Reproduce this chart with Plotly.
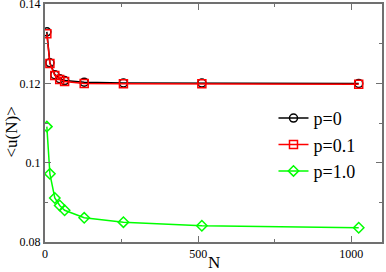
import plotly.graph_objects as go

N = [6, 16, 32, 48, 64, 128, 256, 512, 1024]
u_p0 = [0.1330, 0.1252, 0.1222, 0.1212, 0.1207, 0.1203, 0.1201, 0.1201, 0.1200]
u_p01 = [0.1325, 0.1250, 0.1220, 0.1210, 0.1205, 0.1200, 0.1199, 0.1199, 0.1198]
u_p1 = [0.1091, 0.0972, 0.0911, 0.0892, 0.0880, 0.0861, 0.0850, 0.0841, 0.0836]
labels = ["p=0", "p=0.1", "p=1.0"]

font = "Liberation Serif"
fig = go.Figure()
series = [(u_p0, "black", "circle-open"), (u_p01, "#ff0000", "square-open"), (u_p1, "#00ff00", "diamond-open")]
for (y, c, sym), name in zip(series, labels):
    fig.add_trace(go.Scatter(x=N, y=y, name=name, mode="lines+markers",
                             line=dict(color=c, width=1.5),
                             marker=dict(symbol=sym, size=8, color=c, line=dict(width=1.5, color=c))))

axis_common = dict(showgrid=False, zeroline=False, showline=True, mirror="allticks",
                   linecolor="#707070", linewidth=2, ticks="inside", ticklen=6,
                   tickcolor="#707070", tickwidth=1, automargin=False,
                   ticklabeloverflow="allow",
                   tickfont=dict(family=font, size=12, color="black"))
fig.update_xaxes(range=[0, 1100], tickvals=[0, 500, 1000],
                 minor=dict(tickvals=[250, 750], ticks="inside", ticklen=3, tickcolor="#707070"),
                 **axis_common)
fig.update_yaxes(range=[0.08, 0.14002], tickvals=[0.08, 0.1, 0.12, 0.14],
                 ticktext=["0.08", "0.1", "0.12", "0.14"],
                 minor=dict(tickvals=[0.09, 0.11, 0.13], ticks="inside", ticklen=3, tickcolor="#707070"),
                 **axis_common)
fig.add_annotation(text="N", xref="paper", yref="paper", x=0.5, y=0, yshift=-20,
                   xanchor="center", yanchor="middle", showarrow=False,
                   font=dict(family=font, size=17, color="black"))
fig.add_annotation(text="<u(N)>", xref="paper", yref="paper", x=0, y=0.46, xshift=-33,
                   xanchor="center", yanchor="middle", textangle=-90, showarrow=False,
                   font=dict(family=font, size=17, color="black"))
fig.update_layout(width=386, height=272, margin=dict(l=45, r=4, t=4, b=30),
                  paper_bgcolor="white", plot_bgcolor="white", showlegend=True,
                  legend=dict(x=0.678, y=0.597, xanchor="left", yanchor="top",
                              font=dict(family=font, size=18, color="black"),
                              bgcolor="rgba(0,0,0,0)", itemwidth=30, tracegroupgap=0))
fig.write_html("out.html", config={"displayModeBar": False},
               post_script="document.body.style.margin='0';")
